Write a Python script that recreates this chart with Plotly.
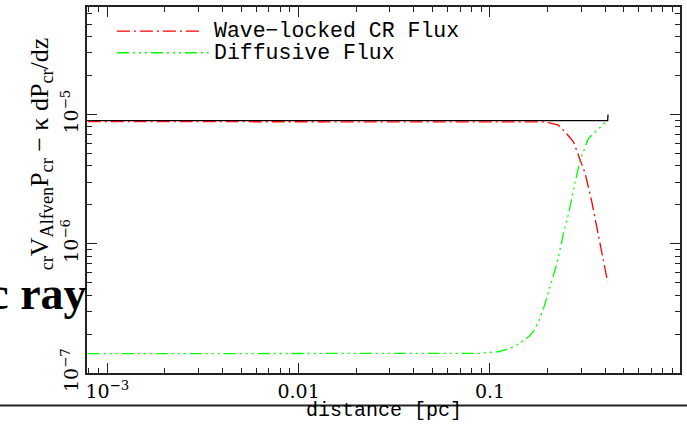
import plotly.graph_objects as go

# ---------------- data ----------------
x_wave = [0.00079, 0.002, 0.005, 0.01, 0.02, 0.05, 0.1, 0.15, 0.186, 0.205, 0.228,
          0.251, 0.273, 0.296, 0.314, 0.340, 0.361, 0.392, 0.412]
y_wave = [8.8e-6, 8.8e-6, 8.8e-6, 8.8e-6, 8.8e-6, 8.8e-6, 8.8e-6, 8.78e-6, 8.75e-6, 8.6e-6, 8.27e-6,
          7.12e-6, 6.15e-6, 4.45e-6, 3.52e-6, 2.13e-6, 1.33e-6, 6.98e-7, 5.05e-7]

x_diff = [0.00079, 0.002, 0.005, 0.01, 0.02, 0.05, 0.087, 0.11, 0.1252, 0.1411, 0.1604,
          0.169, 0.1795, 0.1905, 0.2064, 0.2235, 0.242, 0.257, 0.279, 0.296, 0.327, 0.369, 0.407]
y_diff = [1.41e-7, 1.41e-7, 1.41e-7, 1.41e-7, 1.41e-7, 1.41e-7, 1.42e-7, 1.46e-7, 1.53e-7, 1.67e-7, 1.93e-7,
          2.11e-7, 2.5e-7, 3.16e-7, 4.61e-7, 6.98e-7, 1.19e-6, 1.69e-6, 3.03e-6, 4.45e-6, 6.52e-6, 7.78e-6, 8.87e-6]

x_total = [0.00079, 0.01, 0.1, 0.2, 0.3, 0.412, 0.414]
y_total = [8.95e-6, 8.95e-6, 8.95e-6, 8.95e-6, 8.95e-6, 8.95e-6, 1.0e-5]

series_names = ["Wave\u2212locked CR Flux", "Diffusive Flux"]
x_tickvals = [0.001, 0.01, 0.1]
x_ticktext = ["10<sup>\u22123</sup>", "0.01", "0.1"]
y_tickvals = [1e-7, 1e-6, 1e-5]
y_ticktext = ["10<sup>\u22127</sup>", "10<sup>\u22126</sup>", "10<sup>\u22125</sup>"]
x_title = "distance [pc]"
y_title = "<sub>cr</sub>V<sub>Alfven</sub>P<sub>cr</sub> \u2212 \u03ba dP<sub>cr</sub>/dz"
banner = "Cosmic ray"

# ---------------- layout helpers ----------------
W, H = 687, 425
L, R, T, B = 87, 5, 5, 52
PW, PH = W - L - R, H - T - B


def pxx(x):
    return (x - L) / PW


def pxy(y):
    return (H - B - y) / PH


minor_x = [d * 10.0 ** k for k in range(-4, 1) for d in range(2, 10)]
minor_y = [d * 10.0 ** k for k in range(-8, -3) for d in range(2, 10)]

DASH_RED = "13px,4px,2px,4px"
DASH_GREEN = "12px,4px,2px,4px,2px,4px,2px,4px"
RED = "#ff0000"
GREEN = "#00ff00"

fig = go.Figure()
fig.add_trace(go.Scatter(x=x_total, y=y_total, mode="lines",
                         line=dict(color="black", width=1.3), showlegend=False))
fig.add_trace(go.Scatter(x=x_wave, y=y_wave, mode="lines", name=series_names[0],
                         line=dict(color=RED, width=1.3, dash=DASH_RED), showlegend=False))
fig.add_trace(go.Scatter(x=x_diff, y=y_diff, mode="lines", name=series_names[1],
                         line=dict(color=GREEN, width=1.3, dash=DASH_GREEN), showlegend=False))

tickfont = dict(family="DejaVu Serif", size=19, color="black")
axis_common = dict(type="log", showgrid=False, zeroline=False, showline=True,
                   linecolor="#222", linewidth=1.5, mirror="allticks",
                   ticks="inside", ticklen=10, tickwidth=1.2, tickcolor="#222",
                   tickfont=tickfont)

fig.update_xaxes(range=[-3.106, -0.007], tickmode="array", tickvals=x_tickvals,
                 ticktext=x_ticktext,
                 minor=dict(tickmode="array", tickvals=minor_x, ticks="inside",
                            ticklen=5, tickwidth=1, tickcolor="#222", showgrid=False),
                 **axis_common)
fig.update_yaxes(range=[-7.0, -4.169], tickmode="array", tickvals=y_tickvals,
                 ticktext=y_ticktext, tickangle=-90,
                 minor=dict(tickmode="array", tickvals=minor_y, ticks="inside",
                            ticklen=5, tickwidth=1, tickcolor="#222", showgrid=False),
                 **axis_common)

shapes = [
    dict(type="line", xref="paper", yref="paper", x0=pxx(-10), x1=pxx(W + 10),
         y0=pxy(405.7), y1=pxy(405.7), line=dict(color="#222", width=2.2)),
    dict(type="line", xref="paper", yref="paper", x0=pxx(117), x1=pxx(203),
         y0=pxy(29.3), y1=pxy(29.3), line=dict(color=RED, width=1.3, dash=DASH_RED)),
    dict(type="line", xref="paper", yref="paper", x0=pxx(117), x1=pxx(209),
         y0=pxy(51), y1=pxy(51), line=dict(color=GREEN, width=1.3, dash=DASH_GREEN)),
]

legfont = dict(family="Liberation Mono", size=21.5, color="black")
annotations = [
    dict(text=series_names[0], xref="paper", yref="paper", x=pxx(212), y=pxy(29),
         xanchor="left", yanchor="middle", showarrow=False, font=legfont),
    dict(text=series_names[1], xref="paper", yref="paper", x=pxx(212), y=pxy(51),
         xanchor="left", yanchor="middle", showarrow=False, font=legfont),
    dict(text=banner, xref="paper", yref="paper", x=pxx(89), y=pxy(293),
         xanchor="right", yanchor="middle", showarrow=False,
         font=dict(family="Liberation Serif", size=46, color="black", weight="bold")),
    dict(text=y_title, xref="paper", yref="paper", x=pxx(41), y=pxy(153),
         xanchor="center", yanchor="middle", textangle=-90, showarrow=False,
         font=dict(family="Liberation Serif", size=26, color="black")),
    dict(text=x_title, xref="paper", yref="paper", x=0.5, y=pxy(411),
         xanchor="center", yanchor="middle", showarrow=False,
         font=dict(family="Liberation Mono", size=20, color="black")),
]

fig.update_layout(width=W, height=H, margin=dict(l=L, r=R, t=T, b=B),
                  paper_bgcolor="white", plot_bgcolor="white",
                  shapes=shapes, annotations=annotations, showlegend=False)

fig.write_html("out.html")
